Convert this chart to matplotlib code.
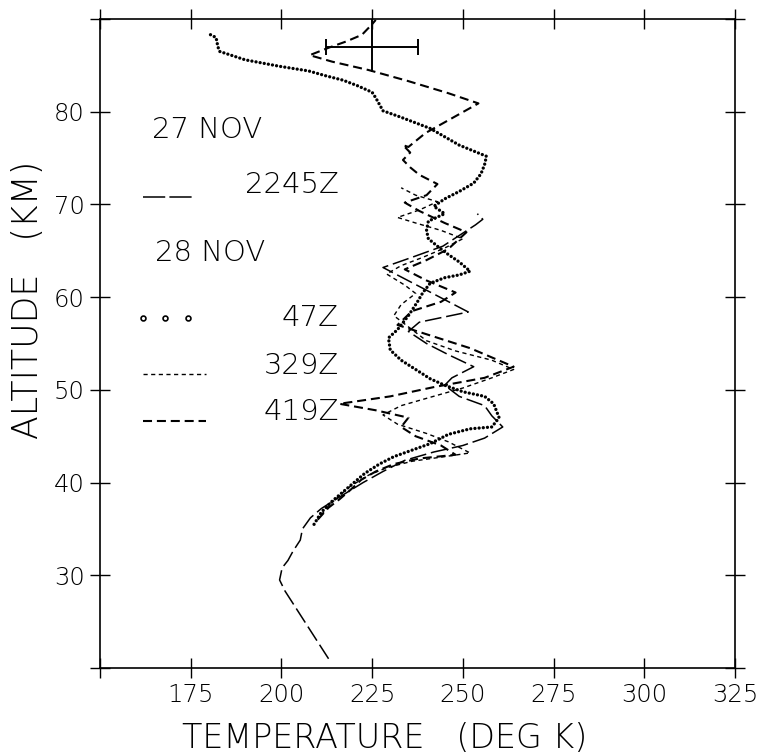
import matplotlib
matplotlib.use("Agg")
import matplotlib.pyplot as plt

# Temperature profiles (deg K) against altitude (km), one pair of lists per sounding
t_2245 = [213.0, 201.0, 199.5, 200.2, 201.8, 203.2, 205.2, 205.8, 208.0, 211.0,
          215.0, 222.5, 228.0, 234.0, 242.0, 250.0, 256.0, 261.0, 258.0, 256.0,
          249.0, 245.0, 247.0, 253.0, 246.0, 240.0, 235.0, 238.0, 251.5, 228.0,
          236.0, 244.5, 253.5, 255.5, 254.0]
z_2245 = [21.0, 28.3, 29.5, 30.8, 31.6, 32.6, 33.8, 35.0, 36.2, 37.2,
          38.2, 40.0, 41.2, 42.4, 43.3, 44.0, 44.8, 46.0, 47.2, 48.3,
          49.3, 50.5, 51.3, 52.5, 53.8, 55.0, 56.3, 57.3, 58.4, 63.2,
          64.3, 65.5, 67.8, 68.4, 69.0]

t_47 = [209.0, 211.0, 214.0, 217.0, 220.0, 223.0, 227.0, 231.0, 236.0, 241.0,
        246.0, 252.0, 258.0, 260.0, 258.5, 256.0, 250.0, 245.0, 241.0, 237.0,
        233.0, 230.0, 229.5, 232.0, 235.0, 237.5, 239.0, 241.0, 245.0, 249.0,
        252.0, 249.0, 246.0, 243.0, 240.5, 240.0, 240.5, 245.0, 242.0, 245.0,
        249.0, 253.0, 255.0, 256.0, 256.5, 249.0, 241.0, 233.0, 228.0, 226.0,
        225.0, 221.0, 217.0, 212.0, 207.5, 199.5, 190.0, 183.0, 182.5, 182.0,
        180.0]
z_47 = [35.5, 36.8, 38.0, 39.0, 40.0, 41.0, 42.0, 42.8, 43.5, 44.2,
        45.2, 45.8, 46.0, 47.0, 48.5, 49.3, 49.8, 50.5, 51.2, 52.2,
        53.2, 54.3, 55.6, 56.5, 58.0, 59.5, 60.5, 61.5, 62.1, 62.4,
        62.8, 63.8, 64.6, 65.5, 66.3, 67.2, 68.2, 69.0, 69.8, 70.6,
        71.4, 72.3, 73.3, 74.3, 75.2, 76.4, 78.2, 79.4, 80.1, 81.5,
        82.1, 82.8, 83.4, 83.9, 84.4, 84.9, 85.6, 86.5, 87.0, 88.0,
        88.4]

t_329 = [211.0, 213.0, 216.0, 219.0, 224.0, 229.0, 236.0, 245.0, 252.0, 246.0,
         240.0, 232.0, 228.0, 233.0, 241.0, 250.0, 258.0, 264.0, 258.0, 248.0,
         240.0, 236.0, 231.0, 233.0, 237.0, 234.0, 229.0, 233.0, 239.0, 245.0,
         250.0, 244.0, 237.0, 232.0, 238.0, 243.0, 237.0, 233.0]
z_329 = [36.5, 37.5, 38.6, 39.6, 40.8, 41.6, 42.3, 42.8, 43.2, 44.4,
         45.3, 46.3, 47.3, 48.3, 49.2, 50.2, 51.3, 52.2, 53.2, 54.2,
         55.3, 56.5, 58.0, 59.2, 60.4, 61.3, 62.5, 63.4, 64.3, 65.3,
         66.3, 67.2, 68.0, 68.6, 69.4, 70.3, 71.0, 71.8]

t_419 = [210.0, 213.0, 216.0, 219.0, 222.0, 226.0, 231.0, 238.0, 248.0, 244.0,
         237.0, 233.0, 235.0, 226.0, 216.0, 230.0, 242.0, 256.0, 264.0, 252.0,
         240.0, 232.0, 236.0, 244.0, 248.0, 240.0, 234.0, 240.0, 246.0, 251.0,
         245.0, 238.0, 234.0, 240.0, 243.0, 238.0, 235.5, 233.5, 235.5, 233.5,
         235.0, 239.7, 254.3, 246.0, 235.0, 224.0, 214.0, 207.8, 213.0, 218.0,
         222.2, 224.9, 226.0]
z_419 = [36.0, 37.3, 38.2, 39.2, 40.3, 41.2, 42.0, 42.6, 43.0, 44.0,
         45.0, 46.0, 47.0, 47.8, 48.5, 49.3, 50.3, 51.3, 52.5, 54.5,
         56.0, 57.0, 58.5, 59.5, 60.5, 61.8, 63.0, 64.0, 65.2, 67.0,
         68.0, 69.3, 70.2, 71.0, 72.2, 73.2, 74.0, 74.8, 75.6, 76.4,
         76.2, 77.7, 80.9, 82.0, 83.3, 84.5, 85.4, 86.1, 86.9, 87.6,
         88.3, 89.4, 89.9]

# error bar near the top of the profiles
err_t, err_z = 225.0, 87.0
err_dt = 12.7
err_dz = [[2.7], [3.0]]

x_ticks = [150, 175, 200, 225, 250, 275, 300, 325]
x_labels = ["", "175", "200", "225", "250", "275", "300", "325"]
y_ticks = [20, 30, 40, 50, 60, 70, 80, 90]
y_labels = ["", "30", "40", "50", "60", "70", "80", ""]

plt.rcParams["font.family"] = ["DejaVu Sans"]
plt.rcParams["font.weight"] = "light"
plt.rcParams["axes.labelweight"] = "light"
plt.rcParams["lines.scale_dashes"] = False

fig = plt.figure(figsize=(7.58, 7.55), dpi=100)
ax = fig.add_axes([0.1319, 0.1152, 0.8377, 0.8596])

ax.plot(t_2245, z_2245, color="black", lw=1.1, dashes=(12, 3.5))
ax.plot(t_47, z_47, color="black", lw=2.4, dashes=(0.01, 3.0),
        dash_capstyle="round")
ax.plot(t_329, z_329, color="black", lw=1.0, dashes=(3, 2.5))
ax.plot(t_419, z_419, color="black", lw=1.5, dashes=(6.5, 3.5))

ax.errorbar(err_t, err_z, xerr=err_dt, fmt="none", ecolor="black",
            elinewidth=1.4, capsize=6, capthick=1.4)
ax.errorbar(err_t, err_z, yerr=err_dz, fmt="none", ecolor="black",
            elinewidth=1.4, capsize=0, clip_on=False)

ax.set_xlim(150, 325)
ax.set_ylim(20, 90)
ax.set_xticks(x_ticks)
ax.set_xticklabels(x_labels)
ax.set_yticks(y_ticks)
ax.set_yticklabels(y_labels)
ax.tick_params(direction="inout", length=14, width=1.0, labelsize=17.5,
               top=True, right=True, pad=4)
for s in ax.spines.values():
    s.set_linewidth(1.2)

ax.set_xlabel("TEMPERATURE   (DEG K)", fontsize=24)
ax.xaxis.set_label_coords(0.449, -0.083)
ax.set_ylabel("ALTITUDE   (KM)", fontsize=25)
ax.yaxis.set_label_coords(-0.087, 0.567)

# hand-placed key
tr = ax.transAxes
txt = dict(transform=tr, fontsize=21, va="center")
ax.text(0.0815, 0.829, "27 NOV", ha="left", **txt)
ax.text(0.376, 0.744, "2245Z", ha="right", **txt)
ax.plot([0.067, 0.149], [0.726, 0.726], transform=tr, color="black",
        lw=1.1, dashes=(16, 3))
ax.text(0.086, 0.639, "28 NOV", ha="left", **txt)
ax.text(0.376, 0.539, "47Z", ha="right", **txt)
ax.plot([0.067, 0.103, 0.139], [0.539, 0.539, 0.539], transform=tr,
        ls="none", marker="o", ms=3.5, mfc="none", mec="black", mew=1.2)
ax.text(0.376, 0.465, "329Z", ha="right", **txt)
ax.plot([0.067, 0.167], [0.453, 0.453], transform=tr, color="black",
        lw=1.0, dashes=(3, 2.5))
ax.text(0.376, 0.394, "419Z", ha="right", **txt)
ax.plot([0.067, 0.167], [0.381, 0.381], transform=tr, color="black",
        lw=1.5, dashes=(6.5, 3.5))

fig.savefig("out.png", dpi=100)
